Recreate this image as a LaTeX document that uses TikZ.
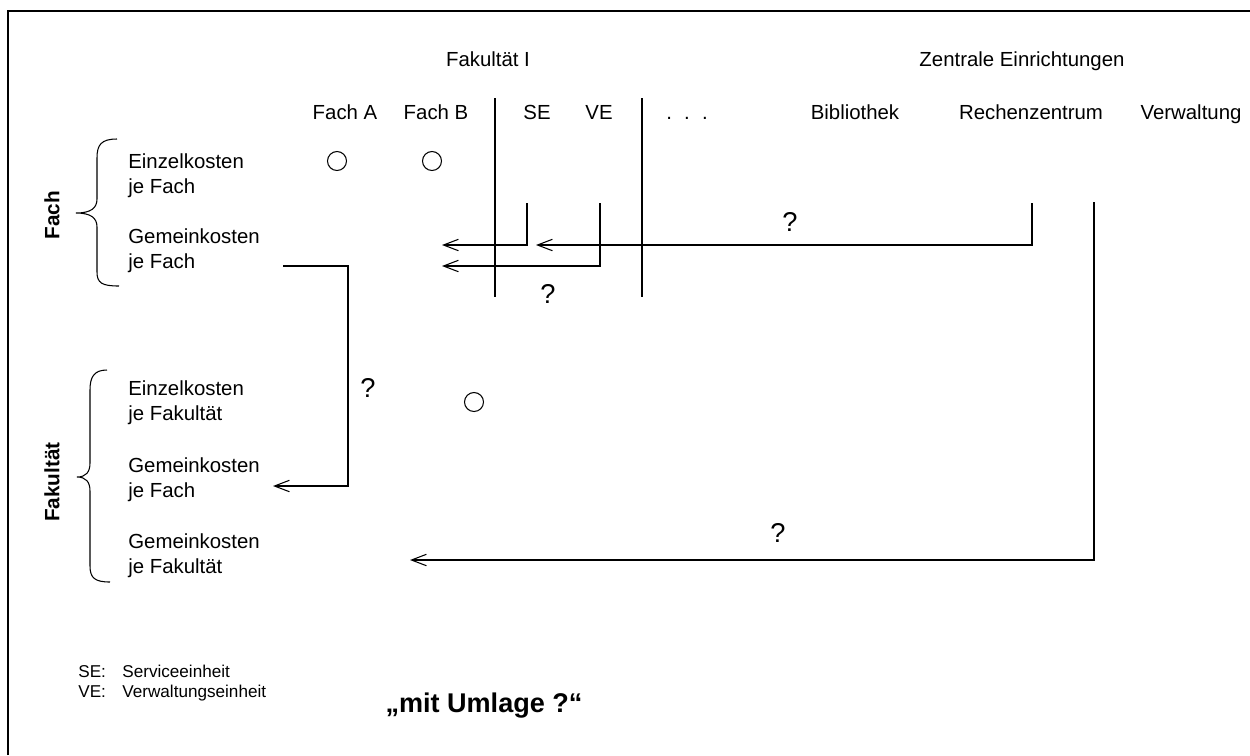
\documentclass[tikz,border=0pt]{standalone}
\usepackage{fontspec}
\setmainfont{Liberation Sans}
\usetikzlibrary{arrows.meta}
\begin{document}
\begin{tikzpicture}[x=0.02cm,y=-0.02cm,
  lbl/.style={inner sep=0pt,text height=8.3pt,text depth=0pt,font=\fontsize{11.6}{14.2}\selectfont},
  txt/.style={inner sep=0pt,align=left,anchor=west,font=\fontsize{11.6}{14.2}\selectfont},
  side/.style={inner sep=0pt,rotate=90,font=\bfseries\fontsize{11.8}{14}\selectfont},
  qm/.style={inner sep=0pt,font=\fontsize{15.5}{18}\selectfont},
  leg/.style={inner sep=0pt,anchor=base west,font=\fontsize{9.75}{11.5}\selectfont},
  conn/.style={line width=0.6pt},
  arr/.style={line width=0.6pt,-{Straight Barb[length=8.5pt,width=6.5pt,line width=0.6pt]}},
  dot/.style={circle,draw,line width=0.6pt,inner sep=0pt,minimum size=0.38cm},
  brace/.style={line width=0.6pt}]
\useasboundingbox (0,0) rectangle (1250,755);
% frame
\draw[line width=1.1pt] (8,755) -- (8,11) -- (1250,11);
% headers
\node[lbl] (fak) at (488,59) {Fakultät I};
\node[lbl] (zen) at (1022,59) {Zentrale Einrichtungen};
\node[lbl] (fa) at (345,112) {Fach A};
\node[lbl] (fb) at (436,112) {Fach B};
\node[lbl] (se) at (537,112) {SE};
\node[lbl] (ve) at (599,112) {VE};
\node[lbl] (dots) at (687,112) {.\hspace{0.6em}.\hspace{0.6em}.};
\node[lbl] (bib) at (855,112) {Bibliothek};
\node[lbl] (rz) at (1031,112) {Rechenzentrum};
\node[lbl] (vw) at (1191,112) {Verwaltung};
% dividers
\draw[conn] (495,98) -- (495,297);
\draw[conn] (642,98) -- (642,297);
% row labels
\node[txt] (ekf) at (128,176) {Einzelkosten\\je Fach};
\node[txt] (gkf) at (128,251) {Gemeinkosten\\je Fach};
\node[txt] (ekk) at (128,403) {Einzelkosten\\je Fakultät};
\node[txt] (gkk1) at (128,480) {Gemeinkosten\\je Fach};
\node[txt] (gkk2) at (128,556) {Gemeinkosten\\je Fakultät};
% side labels
\node[side] (sFach) at (52,215) {Fach};
\node[side] (sFak) at (52,482) {Fakultät};
% braces
\draw[brace] (117,139) .. controls (101,139) and (97,145) .. (97,158) -- (97,199)
  .. controls (97,208) and (91,213) .. (76,213)
  .. controls (91,213) and (97,218) .. (97,227) -- (97,272)
  .. controls (97,283) and (102,286) .. (119,286);
\draw[brace] (107,370) .. controls (94,370) and (90,377) .. (90,390) -- (90,463)
  .. controls (90,472) and (86,477) .. (77,477)
  .. controls (86,477) and (90,482) .. (90,491) -- (90,566)
  .. controls (90,578) and (95,582) .. (110,582);
% circles
\node[dot] (c1) at (337,161) {};
\node[dot] (c2) at (432,161) {};
\node[dot] (c3) at (474,402) {};
% arrows
\coordinate (seTop) at (527,203);
\coordinate (seTip) at (442,245);
\coordinate (rzTop) at (1032,203);
\coordinate (rzTip) at (536,245);
\coordinate (veTop) at (600,203);
\coordinate (veTip) at (442,266);
\coordinate (gfOut) at (283,266);
\coordinate (gfTip) at (273,486);
\coordinate (vwTop) at (1094,202);
\coordinate (vwTip) at (410,560);
\draw[arr] (seTop) |- (seTip);
\draw[arr] (rzTop) |- (rzTip);
\draw[arr] (veTop) |- (veTip);
\draw[arr] (gfOut) -- ++(65,0) |- (gfTip);
\draw[arr] (vwTop) |- (vwTip);
% question marks
\node[qm] (q1) at (790,222) {?};
\node[qm] (q2) at (548,294) {?};
\node[qm] (q3) at (368,388) {?};
\node[qm] (q4) at (778,533) {?};
% legend
\node[leg] (l1) at (78,677) {SE:};
\node[leg] (l1t) at (122,677) {Serviceeinheit};
\node[leg] (l2) at (78,697) {VE:};
\node[leg] (l2t) at (122,697) {Verwaltungseinheit};
% title
\node[inner sep=0pt,font=\bfseries\fontsize{15.4}{18}\selectfont] (title) at (484,706) {„mit Umlage ?“};
\end{tikzpicture}
\end{document}
